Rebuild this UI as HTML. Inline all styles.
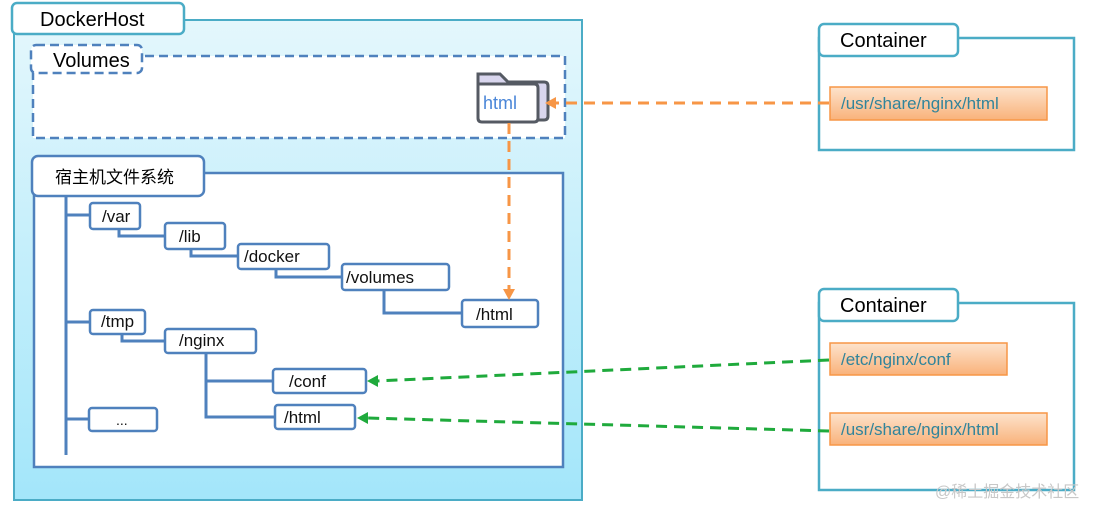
<!DOCTYPE html>
<html><head><meta charset="utf-8"><style>
html,body{margin:0;padding:0;background:#fff;width:1101px;height:506px;overflow:hidden}
svg{display:block}
text{font-family:"Liberation Sans","Noto Sans CJK SC",sans-serif}
</style></head><body>
<svg width="1101" height="506" viewBox="0 0 1101 506" xmlns="http://www.w3.org/2000/svg">
<defs>
<linearGradient id="g" x1="0" y1="0" x2="0" y2="1"><stop offset="0" stop-color="#e4f7fc"/><stop offset="1" stop-color="#a3e6fa"/></linearGradient>
<linearGradient id="o" x1="0" y1="0" x2="0" y2="1"><stop offset="0" stop-color="#fde3cc"/><stop offset="1" stop-color="#f9b27a"/></linearGradient>
</defs>
<!-- DockerHost -->
<rect x="14" y="20" width="568" height="480" fill="url(#g)" stroke="#4bacc6" stroke-width="2"/>
<rect x="12" y="3" width="172" height="31" rx="5" fill="#fff" stroke="#4bacc6" stroke-width="2.5"/>
<text x="40" y="26" font-size="20">DockerHost</text>
<!-- Volumes -->
<rect x="33" y="56" width="532" height="82" fill="#fff" stroke="#4f81bd" stroke-width="2.5" stroke-dasharray="9,5"/>
<rect x="31" y="45" width="111" height="28" rx="5" fill="#fff" stroke="#4f81bd" stroke-width="2.5" stroke-dasharray="9,5"/>
<text x="53" y="67" font-size="20">Volumes</text>
<!-- folder -->
<path d="M478 74 h22 l8 8 h36 q4 0 4 4 v30 q0 4 -4 4 h-62 q-4 0 -4 -4 z" fill="#d9d6ee" stroke="#555a63" stroke-width="3"/>
<path d="M478 84 h56 q4 0 4 4 v30 q0 4 -4 4 h-52 q-4 0 -4 -4 z" fill="#fff" stroke="#555a63" stroke-width="3"/>
<text x="483" y="109" font-size="18" fill="#4a86d8">html</text>
<!-- host fs -->
<rect x="34" y="173" width="529" height="294" fill="#fff" stroke="#4f81bd" stroke-width="2.5"/>
<rect x="32" y="156" width="172" height="40" rx="6" fill="#fff" stroke="#4f81bd" stroke-width="2.5"/>
<text x="55" y="183" font-size="17">宿主机文件系统</text>
<g stroke="#4f81bd" stroke-width="3" fill="none">
<path d="M66 196 V455"/>
<path d="M66 215 H90 M66 322 H90 M66 419 H90"/>
<path d="M119 229 V236 H165"/>
<path d="M191 248 V256 H238"/>
<path d="M276 268 V277 H342"/>
<path d="M384 289 V313 H462"/>
<path d="M122 333 V341 H165"/>
<path d="M206 353 V417 H275 M206 381 H273"/>
</g>
<g stroke="#4f81bd" stroke-width="2.5" fill="#fff">
<rect x="90" y="203" width="50" height="26" rx="3"/>
<rect x="165" y="223" width="60" height="26" rx="3"/>
<rect x="238" y="244" width="91" height="25" rx="3"/>
<rect x="342" y="264" width="107" height="26" rx="3"/>
<rect x="462" y="300" width="76" height="27" rx="3"/>
<rect x="90" y="310" width="55" height="24" rx="3"/>
<rect x="165" y="329" width="91" height="24" rx="3"/>
<rect x="273" y="369" width="93" height="24" rx="3"/>
<rect x="275" y="405" width="80" height="24" rx="3"/>
<rect x="89" y="408" width="68" height="23" rx="3"/>
</g>
<g font-size="17" fill="#111">
<text x="102" y="222">/var</text>
<text x="179" y="242">/lib</text>
<text x="244" y="262">/docker</text>
<text x="346" y="283">/volumes</text>
<text x="476" y="320">/html</text>
<text x="101" y="327">/tmp</text>
<text x="179" y="346">/nginx</text>
<text x="289" y="387">/conf</text>
<text x="284" y="423">/html</text>
<text x="116" y="425" font-size="14">...</text>
</g>
<!-- containers -->
<rect x="819" y="38" width="255" height="112" fill="#fff" stroke="#4bacc6" stroke-width="2.5"/>
<rect x="819" y="24" width="139" height="32" rx="5" fill="#fff" stroke="#4bacc6" stroke-width="2.5"/>
<text x="840" y="47" font-size="20">Container</text>
<rect x="819" y="303" width="255" height="187" fill="#fff" stroke="#4bacc6" stroke-width="2.5"/>
<rect x="819" y="289" width="139" height="32" rx="5" fill="#fff" stroke="#4bacc6" stroke-width="2.5"/>
<text x="840" y="312" font-size="20">Container</text>
<g stroke="#f79646" stroke-width="1.5" fill="url(#o)">
<rect x="830" y="87" width="217" height="33"/>
<rect x="830" y="343" width="177" height="32"/>
<rect x="830" y="413" width="217" height="32"/>
</g>
<g font-size="17" fill="#31849b">
<text x="841" y="109">/usr/share/nginx/html</text>
<text x="841" y="365">/etc/nginx/conf</text>
<text x="841" y="435">/usr/share/nginx/html</text>
</g>
<!-- arrows -->
<g stroke-width="3" fill="none" stroke-dasharray="11,7">
<path d="M829 103 H554" stroke="#f79646"/>
<path d="M509 123 V290" stroke="#f79646"/>
<path d="M829 360 L377 381" stroke="#1faa3c"/>
<path d="M829 431 L367 418" stroke="#1faa3c"/>
</g>
<polygon points="545,103 556,97 556,109" fill="#f79646"/>
<polygon points="509,300 503,289 515,289" fill="#f79646"/>
<polygon points="367,381 378,375 378,387" fill="#1faa3c"/>
<polygon points="357,418 368,412 368,424" fill="#1faa3c"/>
<text x="935" y="497" font-size="16" fill="#c8c8c8">@稀土掘金技术社区</text>
</svg>
</body></html>
